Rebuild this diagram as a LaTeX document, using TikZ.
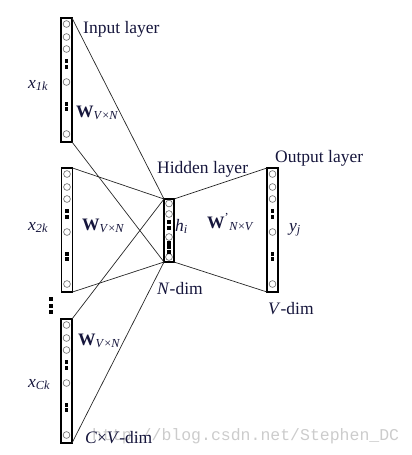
\documentclass[tikz,border=0pt]{standalone}
\usepackage{fontspec}
\setmainfont{Liberation Serif}
\setmonofont{Liberation Mono}
\usepackage{xcolor}
\usepackage{tikz}
\usetikzlibrary{calc}
\definecolor{txtnavy}{RGB}{22,22,60}
\tikzset{
  layerbox/.style={rectangle, draw=black, line width=1.1pt, fill=white,
                   minimum width=11pt, minimum height=124pt,
                   inner sep=0pt, outer sep=0pt},
  unit/.style={circle, draw=black!60, line width=0.6pt,
               minimum size=6.8pt, inner sep=0pt},
  sq/.style={rectangle, fill=black, minimum width=3.6pt,
             minimum height=4pt, inner sep=0pt},
  wire/.style={black!85, line width=0.7pt},
  lbl/.style={font=\fontsize{17.5}{20}\selectfont, text=txtnavy,
              inner sep=0pt, anchor=base west},
  wmark/.style={font=\fontsize{16.5}{18}\selectfont\ttfamily, text=black!20,
               inner sep=0pt, anchor=base west},
}
\newcommand{\wvn}{\textbf{W}\textsubscript{\textit{V}×\textit{N}}}

\begin{document}
\begin{tikzpicture}[x=1pt, y=-1pt]
  \useasboundingbox (0,0) rectangle (412,455);
  %% watermark first, under everything
  \node[wmark] (url) at (92,440) {http://blog.csdn.net/Stephen\_DC};
  %% layers
  \node[layerbox] (in1) at (66.5,80)  {};
  \node[layerbox] (in2) at (67,230)   {};
  \node[layerbox] (in3) at (66.5,381) {};
  \node[layerbox] (out) at (272.5,230) {};
  \node[layerbox, minimum width=10pt, minimum height=63pt] (hid) at (169,230.5) {};
  %% connections
  \foreach \a in {in1,in2,in3} {
    \draw[wire] (\a.north east) -- (hid.north west);
    \draw[wire] (\a.south east) -- (hid.south west);
  }
  \draw[wire] (hid.north east) -- (out.north west);
  \draw[wire] (hid.south east) -- (out.south west);
  %% units of the input and output layers
  \foreach \b in {in1,in2,in3,out} {
    \foreach \dy in {6,19,31,64,116}
      \node[unit] (\b-u\dy) at ($(\b.north)+(0,\dy)$) {};
    \foreach \dy in {43,49,86,91}
      \node[sq] (\b-s\dy) at ($(\b.north)+(0,\dy)$) {};
  }
  %% units of the hidden layer
  \foreach \dy in {4.5,15,38,58}
    \node[unit] (hid-u\dy) at ($(hid.north)+(0,\dy)$) {};
  \foreach \dy in {23,28.5,43.5,48,52.5}
    \node[sq] (hid-s\dy) at ($(hid.north)+(0,\dy)$) {};
  %% dots between the input layers
  \foreach \yy in {299,305.5,312}
    \node[sq, minimum width=4pt] (gap\yy) at (51,\yy) {};
  %% labels
  \node[lbl] (inlbl)  at (83,33)   {Input layer};
  \node[lbl] (hidlbl) at (157,173) {Hidden layer};
  \node[lbl] (outlbl) at (275,162) {Output layer};
  \node[lbl] (x1)  at (28,88)  {\textit{x}\textsubscript{\textit{1k}}};
  \node[lbl] (x2)  at (28,230) {\textit{x}\textsubscript{\textit{2k}}};
  \node[lbl] (x3)  at (28,387) {\textit{x}\textsubscript{\textit{Ck}}};
  \node[lbl] (w1)  at (76,117) {\wvn};
  \node[lbl] (w2)  at (82,230) {\wvn};
  \node[lbl] (w3)  at (78,345) {\wvn};
  \node[lbl] (wout) at (207,228)
    {\textbf{W}\textsuperscript{'}\textsubscript{\textit{N}×\textit{V}}};
  \node[lbl] (hi)  at (175,231) {\textit{h}\textsubscript{\textit{i}}};
  \node[lbl] (yj)  at (289,231) {\textit{y}\textsubscript{\textit{j}}};
  \node[lbl] (ndim) at (157,294) {\textit{N}-dim};
  \node[lbl] (vdim) at (268,314) {\textit{V}-dim};
  \node[lbl] (cvdim) at (85,443) {\textit{C}×\textit{V}-dim};
\end{tikzpicture}
\end{document}
